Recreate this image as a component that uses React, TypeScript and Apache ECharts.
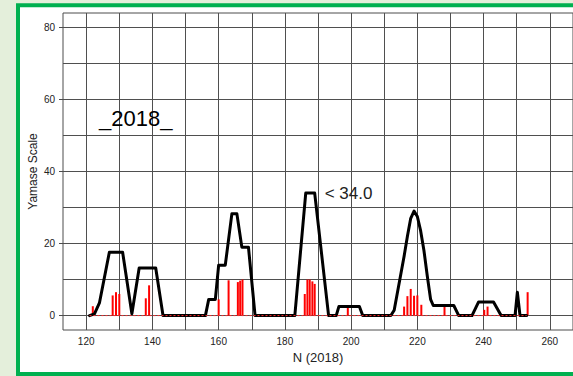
import React, { useEffect, useRef } from "react";
import * as echarts from "echarts";

// Yamase index (black curve): day number and scale value
const lineDays = [
  121, 122.5, 124, 127, 131, 133.8, 136, 141, 143.2,
  156, 157, 159, 160, 162, 164, 165.5, 167, 169, 171,
  183, 186.3, 189, 193.2, 195.5, 196.3, 202.5, 203.5,
  212, 213, 214, 215, 216, 217, 218, 219, 220, 221, 222, 223, 224, 224.8, 231, 232.5,
  236.5, 238.5, 243, 245.3, 249.5, 250.2, 251, 253,
];
const lineValues = [
  0, 0.5, 3.5, 17.6, 17.6, 0.5, 13.2, 13.2, 0,
  0, 4.5, 4.5, 14, 14, 28.3, 28.3, 19, 19, 0,
  0, 34, 34, 0, 0, 2.5, 2.5, 0,
  0, 1.5, 6.5, 11.5, 16.5, 22, 27, 29, 27.5, 23.5, 18, 11, 4.5, 2.8, 2.8, 0,
  0, 3.8, 3.8, 0, 0, 6.5, 0, 0,
];

// Daily observations (red bars)
const barDays = [
  122, 128, 129, 130, 138, 139,
  160, 163, 165.8, 166.5, 167.2,
  186, 186.8, 187.5, 188.3, 189,
  199,
  216, 217, 218, 219, 220, 221.2,
  228.2,
  240.2, 241.2,
  253.3,
];
const barValues = [
  2.6, 5.6, 6.5, 6, 4.8, 8.4,
  4.5, 9.8, 9.3, 9.7, 10,
  6, 10, 10, 9.5, 8.8,
  2.4,
  2.5, 5.4, 7.4, 5.5, 5.6, 3,
  2.6,
  1.6, 2.5,
  6.5,
];

// Peak that carries a value label
const peakDay = 189;

// Axis ticks and grid lines
const xTickLabels = [120, 140, 160, 180, 200, 220, 240, 260];
const yTickLabels = [0, 20, 40, 60, 80];
const xGridValues = [120, 130, 140, 150, 160, 170, 180, 190, 200, 210, 220, 230, 240, 250, 260];
const yGridValues = [0, 10, 20, 30, 40, 50, 60, 70, 80];

const yearLabel = "_2018_";

const FONT = '"Liberation Sans", Arial, sans-serif';

export default function App() {
  const ref = useRef<HTMLDivElement>(null);

  useEffect(() => {
    if (!ref.current) return;
    const chart = echarts.init(ref.current, undefined, { renderer: "svg" });

    const lineData = lineDays.map((d, i) => {
      const value = [d, lineValues[i]];
      if (d === peakDay && lineValues[i] === Math.max(...lineValues)) {
        return {
          value,
          label: {
            show: true,
            position: "right",
            distance: 10,
            formatter: (p: any) => "< " + p.value[1].toFixed(1),
            fontSize: 17,
            fontFamily: FONT,
            color: "#222",
          },
        };
      }
      return { value };
    });

    chart.setOption({
      animation: false,
      backgroundColor: "#e4efdb",
      graphic: {
        elements: [
          {
            type: "rect",
            z: -10,
            shape: { x: 18, y: 5.3, width: 640, height: 368.7 },
            style: { fill: "#ffffff", stroke: "#00b050", lineWidth: 4 },
          },
          {
            type: "text",
            z: 100,
            x: 99,
            y: 118,
            style: {
              text: yearLabel,
              fontSize: 22,
              fontFamily: FONT,
              fill: "#000",
              align: "left",
              verticalAlign: "middle",
            },
          },
        ],
      },
      grid: {
        left: 63,
        top: 13,
        width: 514,
        height: 317,
        show: true,
        backgroundColor: "#ffffff",
        borderColor: "#4d4d4d",
        borderWidth: 1,
      },
      xAxis: {
        type: "value",
        min: 113,
        max: 267,
        axisLine: { show: false },
        splitLine: { show: false },
        axisTick: {
          show: true,
          customValues: xTickLabels,
          length: 4,
          lineStyle: { color: "#4d4d4d" },
        },
        axisLabel: {
          customValues: xTickLabels,
          fontSize: 10,
          fontFamily: FONT,
          color: "#222",
          margin: 6,
        },
        name: "N (2018)",
        nameLocation: "middle",
        nameGap: 21,
        nameMoveOverlap: false,
        nameTextStyle: { fontSize: 13, fontFamily: FONT, color: "#222" },
      },
      yAxis: {
        type: "value",
        min: -4,
        max: 84,
        axisLine: { show: false },
        splitLine: { show: false },
        axisTick: {
          show: true,
          customValues: yTickLabels,
          length: 4,
          lineStyle: { color: "#4d4d4d" },
        },
        axisLabel: {
          customValues: yTickLabels,
          fontSize: 10,
          fontFamily: FONT,
          color: "#222",
          margin: 8,
        },
        name: "Yamase Scale",
        nameLocation: "middle",
        nameGap: 24,
        nameMoveOverlap: false,
        nameTextStyle: { fontSize: 12, fontFamily: FONT, color: "#222" },
      },
      series: [
        {
          name: "grid",
          type: "line",
          data: [],
          z: 1,
          silent: true,
          markLine: {
            z: 1,
            silent: true,
            symbol: ["none", "none"],
            label: { show: false },
            lineStyle: { color: "#4f4f4f", width: 1, type: "solid" },
            emphasis: { disabled: true },
            data: [
              ...yGridValues.map((v) => ({ yAxis: v })),
              ...xGridValues.map((v) => ({ xAxis: v })),
            ],
          },
        },
        {
          name: "observed",
          type: "bar",
          z: 2,
          barWidth: 2,
          itemStyle: { color: "#ff0000" },
          data: barDays.map((d, i) => [d, barValues[i]]),
        },
        {
          name: "index",
          type: "line",
          z: 3,
          showSymbol: true,
          symbol: "circle",
          symbolSize: 0,
          lineStyle: { color: "#000", width: 3, join: "round", cap: "round" },
          data: lineData,
        },
        {
          name: "baseline",
          type: "line",
          z: 4,
          symbol: "none",
          lineStyle: { color: "#ff2a2a", width: 1, type: [2, 2] },
          data: [
            [lineDays[0], 0],
            [lineDays[lineDays.length - 1], 0],
          ],
        },
      ],
    });

    return () => chart.dispose();
  }, []);

  return (
    <div
      ref={ref}
      style={{ position: "fixed", left: 0, top: 0, width: 573, height: 376 }}
    />
  );
}
